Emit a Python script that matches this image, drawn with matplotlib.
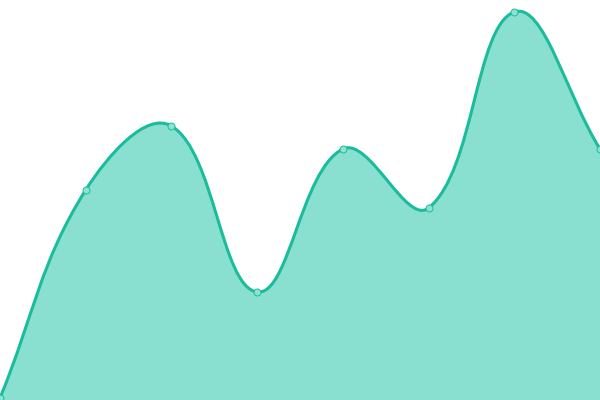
import numpy as np
import matplotlib
matplotlib.use("Agg")
import matplotlib.pyplot as plt
from matplotlib.path import Path
from matplotlib.patches import PathPatch

# values (height above the bottom edge, 0..400)
labels = ["p0", "p1", "p2", "p3", "p4", "p5", "p6", "p7"]
values = [2, 210, 274, 108, 251, 192, 388, 251]

line_color = "#1abc9c"
fill_color = "#8ae0d0"
tension = 0.4

W, H = 600, 400
x = np.arange(len(values), dtype=float)
y = np.array(values, dtype=float)
sx = W / (len(values) - 1)  # pixel per x step


def spline_controls(px, py, t):
    """Chart.js style spline control points, in pixel space."""
    n = len(px)
    cp = []
    for i in range(n):
        p0 = (px[max(i - 1, 0)], py[max(i - 1, 0)])
        p1 = (px[i], py[i])
        p2 = (px[min(i + 1, n - 1)], py[min(i + 1, n - 1)])
        d01 = np.hypot(p1[0] - p0[0], p1[1] - p0[1])
        d12 = np.hypot(p2[0] - p1[0], p2[1] - p1[1])
        s01 = d01 / (d01 + d12) if d01 + d12 else 0
        s12 = d12 / (d01 + d12) if d01 + d12 else 0
        fa, fb = t * s01, t * s12
        prev = (p1[0] - fa * (p2[0] - p0[0]), p1[1] - fa * (p2[1] - p0[1]))
        nxt = (p1[0] + fb * (p2[0] - p0[0]), p1[1] + fb * (p2[1] - p0[1]))
        prev = (min(max(prev[0], 0), W), min(max(prev[1], 0), H))
        nxt = (min(max(nxt[0], 0), W), min(max(nxt[1], 0), H))
        cp.append((prev, nxt))
    return cp


px = x * sx
cps = spline_controls(px, y, tension)

verts = [(x[0], y[0])]
codes = [Path.MOVETO]
for i in range(1, len(x)):
    c1 = cps[i - 1][1]
    c2 = cps[i][0]
    verts += [(c1[0] / sx, c1[1]), (c2[0] / sx, c2[1]), (x[i], y[i])]
    codes += [Path.CURVE4] * 3

fill_verts = verts + [(x[-1], 0), (x[0], 0), (x[0], y[0])]
fill_codes = codes + [Path.LINETO, Path.LINETO, Path.CLOSEPOLY]

fig = plt.figure(figsize=(6, 4), dpi=100)
ax = fig.add_axes([0, 0, 1, 1])
ax.add_patch(PathPatch(Path(fill_verts, fill_codes), facecolor=fill_color,
                       edgecolor="none"))
ax.add_patch(PathPatch(Path(verts, codes), facecolor="none",
                       edgecolor=line_color, lw=2.2, capstyle="round",
                       joinstyle="round"))
ax.plot(x, y, "o", ms=5, mfc="#8ee2d3", mec=line_color, mew=0.7)
ax.set_xlim(0, len(values) - 1)
ax.set_ylim(0, H)
ax.axis("off")
fig.savefig("out.png")
